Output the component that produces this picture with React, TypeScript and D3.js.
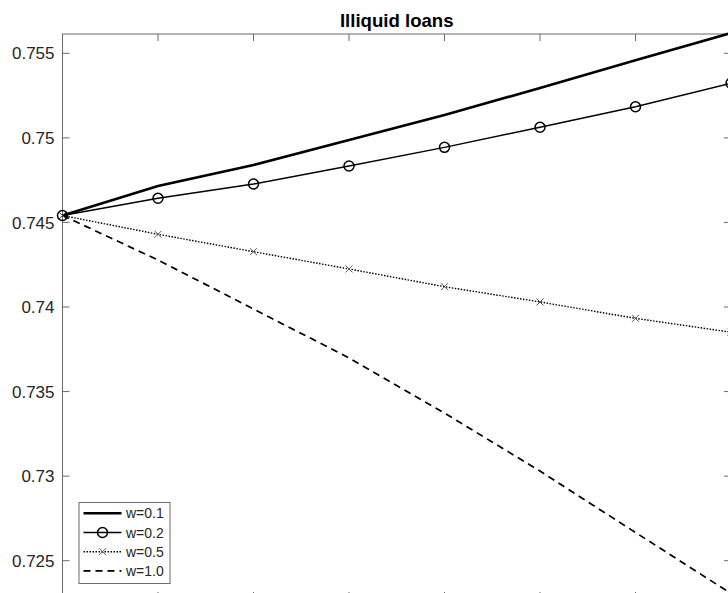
import * as d3 from "d3"
import { useEffect, useRef } from "react"

// steps along the x axis (no labels shown on the picture)
const steps = [0, 1, 2, 3, 4, 5, 6, 7]

const yTicks = [0.725, 0.73, 0.735, 0.74, 0.745, 0.75, 0.755]
const yTickLabels = ["0.725", "0.73", "0.735", "0.74", "0.745", "0.75", "0.755"]

const seriesNames = ["w=0.1", "w=0.2", "w=0.5", "w=1.0"]

const w01 = [0.74541, 0.74715, 0.7484, 0.74987, 0.75135, 0.75295, 0.75459, 0.7562]
const w02 = [0.74541, 0.74643, 0.74727, 0.74834, 0.74944, 0.75063, 0.75184, 0.75323]
const w05 = [0.74541, 0.7443, 0.74327, 0.74225, 0.7412, 0.7403, 0.73933, 0.73851]
const w10 = [0.74541, 0.74278, 0.73988, 0.73699, 0.73373, 0.7303, 0.72667, 0.72306]

const W = 728
const H = 593

const App = () => {
  const svgRef = useRef<SVGSVGElement | null>(null)

  useEffect(() => {
    if (!svgRef.current) return
    const svg = d3.select(svgRef.current)
    svg.selectAll("*").remove()

    // the axes box runs past the right and bottom edges of the picture
    const left = 62.5
    const right = 731
    const top = 34
    const bottom = 599
    const axisColor = "#6b6b6b"
    const textColor = "#262626"
    const font = "Liberation Sans, Arial, Helvetica, sans-serif"

    const x = d3.scaleLinear().domain([0, 7]).range([left, right])
    const y = d3.scaleLinear().domain([0.725, 0.755]).range([560.7, 53.3])

    svg.attr("width", W).attr("height", H).attr("viewBox", `0 0 ${W} ${H}`)
    svg.append("rect").attr("width", W).attr("height", H).attr("fill", "#fff")

    // box
    svg
      .append("rect")
      .attr("x", left)
      .attr("y", top)
      .attr("width", right - left)
      .attr("height", bottom - top)
      .attr("fill", "none")
      .attr("stroke", axisColor)
      .attr("stroke-width", 1)

    const tl = 7
    // x ticks top and bottom, pointing inward
    steps.forEach((s) => {
      const px = x(s)
      svg
        .append("line")
        .attr("x1", px)
        .attr("x2", px)
        .attr("y1", top)
        .attr("y2", top + tl)
        .attr("stroke", axisColor)
      svg
        .append("line")
        .attr("x1", px)
        .attr("x2", px)
        .attr("y1", bottom)
        .attr("y2", bottom - tl)
        .attr("stroke", axisColor)
    })

    // y ticks left and right + labels
    yTicks.forEach((t, i) => {
      const py = y(t)
      svg
        .append("line")
        .attr("x1", left)
        .attr("x2", left + tl)
        .attr("y1", py)
        .attr("y2", py)
        .attr("stroke", axisColor)
      svg
        .append("line")
        .attr("x1", right)
        .attr("x2", right - tl)
        .attr("y1", py)
        .attr("y2", py)
        .attr("stroke", axisColor)
      svg
        .append("text")
        .attr("x", left - 8)
        .attr("y", py)
        .attr("dy", "0.36em")
        .attr("text-anchor", "end")
        .attr("fill", textColor)
        .style("font", `17px ${font}`)
        .text(yTickLabels[i])
    })

    // title
    svg
      .append("text")
      .attr("x", (left + right) / 2)
      .attr("y", 26.5)
      .attr("text-anchor", "middle")
      .attr("fill", "#000")
      .style("font", `bold 18.6px ${font}`)
      .text("Illiquid loans")

    const line = d3
      .line<number>()
      .x((_, i) => x(steps[i]))
      .y((d) => y(d))

    const styles = [
      { data: w01, width: 2.6, dash: null as string | null },
      { data: w02, width: 1.4, dash: null as string | null },
      { data: w05, width: 1.4, dash: "1.5,1.5" },
      { data: w10, width: 1.7, dash: "7,5" },
    ]

    styles.forEach((s) => {
      svg
        .append("path")
        .attr("d", line(s.data))
        .attr("fill", "none")
        .attr("stroke", "#000")
        .attr("stroke-width", s.width)
        .attr("stroke-dasharray", s.dash)
    })

    const drawCircle = (g: any, cx: number, cy: number) =>
      g
        .append("circle")
        .attr("cx", cx)
        .attr("cy", cy)
        .attr("r", 5)
        .attr("fill", "none")
        .attr("stroke", "#000")
        .attr("stroke-width", 1.5)

    const drawCross = (g: any, cx: number, cy: number) => {
      const r = 3.5
      g.append("path")
        .attr("d", `M${cx - r},${cy - r}L${cx + r},${cy + r}M${cx - r},${cy + r}L${cx + r},${cy - r}`)
        .attr("stroke", "#555")
        .attr("stroke-width", 1)
        .attr("fill", "none")
    }

    w05.forEach((d, i) => drawCross(svg, x(steps[i]), y(d)))
    w02.forEach((d, i) => drawCircle(svg, x(steps[i]), y(d)))

    // legend
    const lx = 79
    const ly = 502.5
    const lw = 91
    const lh = 81
    const lg = svg.append("g")
    lg.append("rect")
      .attr("x", lx)
      .attr("y", ly)
      .attr("width", lw)
      .attr("height", lh)
      .attr("fill", "#fff")
      .attr("stroke", axisColor)
      .attr("stroke-width", 1)

    seriesNames.forEach((name, i) => {
      const cy = 513.3 + i * 19.2
      lg.append("line")
        .attr("x1", 83.5)
        .attr("x2", 121.5)
        .attr("y1", cy)
        .attr("y2", cy)
        .attr("stroke", "#000")
        .attr("stroke-width", styles[i].width)
        .attr("stroke-dasharray", styles[i].dash)
      if (i === 1) drawCircle(lg, 102.5, cy)
      if (i === 2) drawCross(lg, 102.5, cy)
      lg.append("text")
        .attr("x", 126)
        .attr("y", cy)
        .attr("dy", "0.36em")
        .attr("fill", textColor)
        .style("font", `14px ${font}`)
        .text(name)
    })
  }, [])

  return (
    <>
      <style>{"body{margin:0;overflow:hidden}"}</style>
      <svg ref={svgRef} style={{ display: "block" }} />
    </>
  )
}

export default App
